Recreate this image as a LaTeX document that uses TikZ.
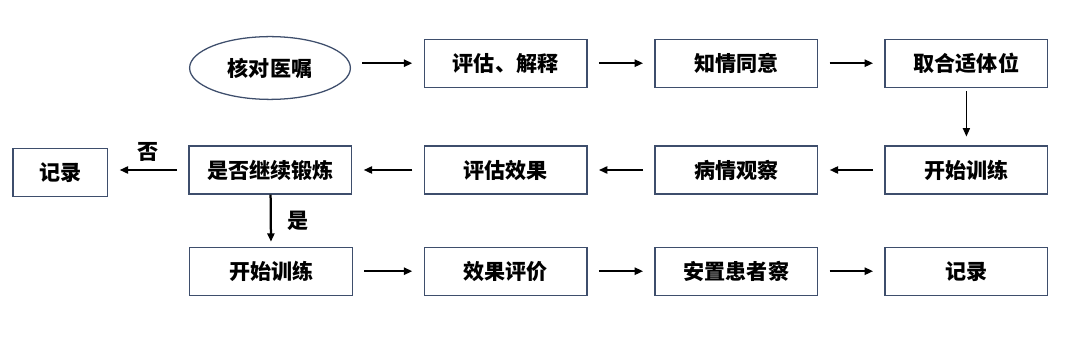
\documentclass[tikz,border=0pt]{standalone}
\usepackage{fontspec}
\setmainfont{Noto Sans CJK SC}
\usepackage{tikz}
\usetikzlibrary{positioning, calc, shapes.geometric, arrows.meta}
\definecolor{boxBlue}{RGB}{62, 78, 108}
\tikzset{
  stepbox/.style={rectangle, draw=boxBlue, fill=white, line width=0.9pt,
                  minimum width=4.07cm, minimum height=1.2cm,
                  align=center, font=\fontsize{15}{18}\selectfont\bfseries},
  ovalbox/.style={ellipse, draw=boxBlue, fill=white, line width=0.9pt,
                  minimum width=4.02cm, minimum height=1.57cm,
                  align=center, font=\fontsize{15}{18}\selectfont\bfseries},
  flowarr/.style={-{Triangle[length=6pt,width=5pt]}, line width=1.6pt, black,
                  shorten <=0.28cm, shorten >=0.28cm},
}

\begin{document}
\begin{tikzpicture}
    \useasboundingbox (0,0) rectangle (27,8.6);

    % Row 1
    \node[ovalbox] (S0) at (6.75,6.9) {核对医嘱};
    \node[stepbox] (S1) at (12.64,7.02) {评估、解释};
    \node[stepbox] (S2) at (18.41,7.02) {知情同意};
    \node[stepbox] (S3) at (24.16,7.02) {取合适体位};

    % Row 2
    \node[stepbox] (S4) at (24.16,4.35) {开始训练};
    \node[stepbox] (S5) at (18.41,4.35) {病情观察};
    \node[stepbox] (S6) at (12.64,4.35) {评估效果};
    \node[stepbox] (S7) at (6.76,4.35) {是否继续锻炼};
    \node[stepbox, minimum width=2.37cm] (R1) at (1.51,4.29) {记录};

    % Row 3
    \node[stepbox] (T1) at (6.78,1.82) {开始训练};
    \node[stepbox] (T2) at (12.64,1.82) {效果评价};
    \node[stepbox] (T3) at (18.41,1.82) {安置患者察};
    \node[stepbox] (T4) at (24.16,1.82) {记录};

    % Connections
    \draw[flowarr] (S0.east |- S1) -- (S1);
    \draw[flowarr] (S1) -- (S2);
    \draw[flowarr] (S2) -- (S3);
    \draw[flowarr, line width=1.1pt, shorten <=0.08cm, shorten >=0.22cm] (S3) -- (S4);
    \draw[flowarr] (S4) -- (S5);
    \draw[flowarr] (S5) -- (S6);
    \draw[flowarr] (S6) -- (S7);
    \draw[flowarr] (S7.west) -- (R1.east |- S7.west)
        node[midway, above=2pt, font=\fontsize{15}{18}\selectfont\bfseries] {否};
    \draw[flowarr, shorten <=0cm, shorten >=0.12cm] (S7) -- (T1)
        node[midway, right=8pt, font=\fontsize{15}{18}\selectfont\bfseries] {是};
    \draw[flowarr] (T1) -- (T2);
    \draw[flowarr] (T2) -- (T3);
    \draw[flowarr] (T3) -- (T4);
\end{tikzpicture}
\end{document}
